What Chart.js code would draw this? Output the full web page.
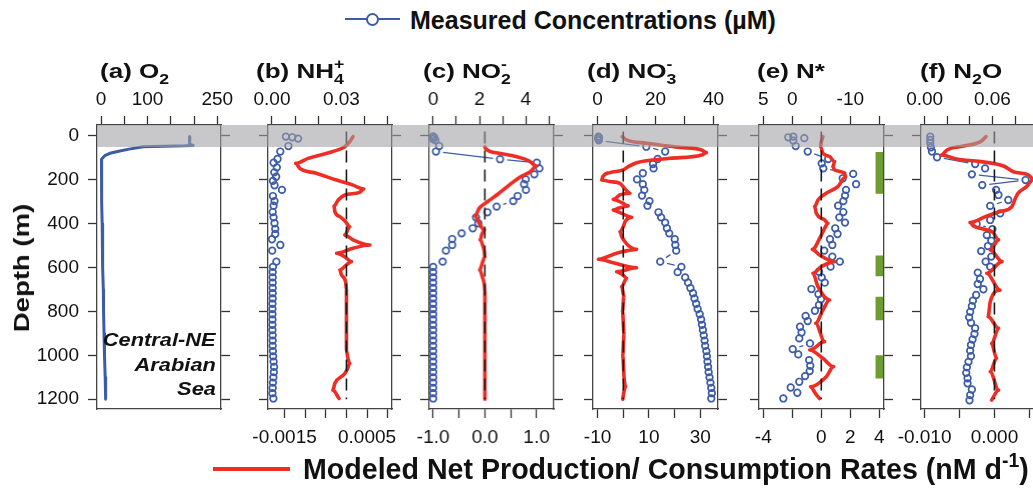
<!DOCTYPE html>
<html><head><meta charset="utf-8">
<script src="https://cdn.jsdelivr.net/npm/chart.js@4.4.0/dist/chart.umd.min.js"></script>
<style>
html,body{margin:0;padding:0;background:#fff;}
body{width:1033px;height:488px;overflow:hidden;position:relative;font-family:"Liberation Sans",Arial,sans-serif;color:#111}
canvas{position:absolute}
.t{position:absolute;white-space:nowrap;font-weight:bold;transform-origin:0 0;color:#111}
.t span{line-height:0}
.band{position:absolute;left:97px;top:125px;width:1000px;height:22px;background:rgba(160,161,163,0.58);z-index:5}
.u{position:relative;font-size:.68em}
</style></head><body>
<div class="band"></div>
<script>
// ---------------- DATA ----------------
// (a) O2 profile (µM) vs depth (m)
const o2Depth = [2, 10, 20, 30, 38, 43, 45, 49, 60, 70, 79, 90, 106, 130, 160, 200, 300, 400, 500, 600, 700, 800, 900, 1000, 1100, 1200];
const o2Conc  = [191, 190, 191, 190, 191, 198, 180, 91, 60, 38, 19, 8, 1, 1, 1, 1.5, 2, 2.5, 3, 4, 5, 5.5, 6.5, 7.5, 9, 10];

// (b) NH4+ measured (µM) and modeled rate (nM/d)
const nh4Depth = [3, 6, 12, 46, 71, 105, 122, 143, 166, 186, 205, 225, 246, 274, 297, 318, 347, 371, 398, 424, 447, 471, 497, 523, 573, 597, 621, 645, 669, 693, 717, 741, 765, 789, 813, 837, 861, 885, 909, 933, 957, 981, 1005, 1029, 1053, 1077, 1101, 1125, 1149, 1173, 1197];
const nh4Conc  = [0.0060, 0.0088, 0.0113, 0.0071, 0.0036, 0.0024, 0.0007, 0.0021, 0.0010, 0.0018, 0.0004, 0.0011, 0.0043, 0.0004, 0.0011, 0.0007, 0.0003, 0.0007, 0.0011, 0.0014, 0.0014, 0.0000, 0.0036, 0.0001, 0.0019, 0.0004, 0.0003, 0.0003, 0.0003, 0.0003, 0.0003, 0.0003, 0.0002, 0.0002, 0.0002, 0.0002, 0.0002, 0.0002, 0.0003, 0.0003, 0.0003, 0.0004, 0.0005, 0.0007, 0.0009, 0.0008, 0.0006, 0.0004, 0.0003, 0.0002, 0.0006];
const nh4RDepth = [3, 26, 49, 71, 102, 125, 148, 170, 201, 224, 242, 257, 269, 292, 320, 345, 368, 391, 414, 452, 474, 497, 512, 535, 551, 573, 588, 611, 634, 665, 700, 800, 900, 976, 1010, 1037, 1060, 1083, 1128, 1159, 1197];
const nh4Rate   = [0.00016, 0.00008, -0.00004, -0.00033, -0.00093, -0.00123, -0.00113, -0.00073, -0.00024, 0.00016, 0.00042, 0.00032, -0.00004, -0.00020, -0.00030, -0.00028, -0.00016, -0.00002, 0.00008, -0.00004, 0.00016, 0.00057, 0.00016, -0.00024, -0.00004, 0.00012, 0.00000, -0.00016, -0.00012, -0.00002, 0, 0, 0, 0, 0.00003, 0.00008, 0.00003, -0.00004, -0.00028, -0.00033, -0.00018];

// (c) NO2-
const no2Depth = [2, 8, 14, 20, 46, 71, 106, 122, 148, 175, 198, 220, 246, 274, 297, 322, 348, 371, 398, 421, 444, 470, 497, 523, 573, 597, 621, 645, 669, 693, 717, 741, 765, 789, 813, 837, 861, 885, 909, 933, 957, 981, 1005, 1029, 1053, 1077, 1101, 1125, 1149, 1173, 1197];
const no2Conc  = [0.0, 0.05, 0.0, 0.1, 0.26, 0.12, 2.89, 4.48, 4.59, 4.37, 4.0, 3.93, 4.01, 3.65, 3.46, 2.74, 2.34, 1.85, 1.95, 1.71, 1.23, 0.82, 0.82, 0.55, 0.41, 0.0, 0.0, 0.0, 0.0, 0.0, 0.0, 0.0, 0.0, 0.0, 0.0, 0.0, 0.0, 0.0, 0.0, 0.0, 0.0, 0.0, 0.0, 0.0, 0.0, 0.0, 0.0, 0.0, 0.0, 0.0, 0.0];
const no2RDepth = [50, 56, 79, 94, 113, 137, 163, 186, 224, 261, 300, 330, 365, 398, 429, 450, 474, 500, 528, 551, 580, 611, 642, 680, 710, 800, 900, 1000, 1100, 1200];
const no2Rate   = [0.0, 0.01, 0.275, 0.6, 0.85, 1.0, 0.88, 0.69, 0.47, 0.275, 0.05, -0.11, -0.19, -0.11, -0.01, -0.06, -0.09, -0.04, -0.01, 0.0, -0.05, -0.1, -0.05, -0.01, 0, 0, 0, 0, 0, 0];

// (d) NO3-
const no3Depth = [3, 8, 14, 20, 49, 71, 105, 128, 148, 170, 198, 220, 246, 272, 297, 318, 348, 371, 395, 421, 444, 471, 497, 523, 573, 597, 621, 645, 669, 693, 717, 741, 765, 789, 813, 837, 861, 885, 909, 933, 957, 981, 1005, 1029, 1053, 1077, 1101, 1125, 1149, 1173, 1197];
const no3Conc  = [0.3, 0.5, 0.2, 0.4, 16.8, 23.3, 20.7, 19.1, 19.3, 15.6, 13.6, 15.6, 16.1, 15.3, 17.9, 17.2, 21.0, 21.9, 23.3, 23.9, 24.7, 26.6, 26.8, 27.1, 21.6, 28.9, 27.6, 30.2, 31.2, 32.0, 32.9, 33.4, 34.0, 34.5, 35.2, 35.7, 36.0, 36.3, 36.6, 36.9, 37.1, 37.5, 37.7, 37.9, 38.1, 38.3, 38.6, 38.9, 39.2, 39.4, 39.2];
const no3RDepth = [3, 18, 33, 52, 64, 76, 87, 102, 122, 140, 155, 167, 186, 201, 208, 216, 242, 261, 269, 289, 304, 319, 330, 338, 353, 371, 391, 414, 437, 459, 480, 500, 517, 535, 562, 578, 601, 619, 635, 649, 687, 730, 800, 900, 1000, 1100, 1144, 1170, 1200];
const no3Rate   = [-0.4, 1.3, 9.1, 22, 30.5, 32.4, 30.5, 18.2, 5.2, 1.9, 0, -5.2, -8.0, -8.4, -5.2, -1.3, 0.7, 2.6, -1.3, -3.9, -0.6, 1.9, -1.9, -3.9, -0.6, 3.3, 0.7, 0, -1.3, -0.6, 0.5, 2.0, 5.2, -2.6, -9.7, -3.9, 5.2, -2.6, 0, 1.3, -0.6, 0.2, -0.3, 0.3, -0.2, 0.3, 0.9, 0.2, -0.2];

// (e) N*
const nsDepth = [3, 6, 10, 21, 46, 71, 105, 125, 148, 173, 193, 220, 246, 272, 297, 318, 347, 371, 395, 421, 447, 471, 497, 523, 550, 573, 596, 619, 645, 669, 698, 721, 745, 771, 797, 821, 844, 870, 896, 923, 946, 972, 996, 1022, 1048, 1072, 1095, 1121, 1147, 1171, 1197];
const nsVal   = [-0.17, 0.69, -2.07, -0.17, -0.59, -2.66, -6.2, -5.07, -5.34, -10.5, -8.7, -11.0, -9.26, -9.09, -8.8, -7.9, -8.8, -8.1, -9.09, -7.4, -7.8, -6.5, -6.9, -5.5, -6.9, -8.2, -6.6, -4.6, -5.07, -5.6, -3.3, -4.5, -4.95, -4.6, -3.9, -2.3, -2.66, -1.33, -1.6, -1.2, -3.05, -0.07, -1.03, -2.9, -3.1, -3.0, -2.2, -1.2, 0.28, -0.86, 1.55];
const nsRDepth = [3, 26, 49, 79, 94, 117, 140, 155, 170, 186, 231, 261, 292, 322, 353, 383, 398, 421, 452, 517, 543, 573, 596, 626, 687, 748, 794, 854, 938, 976, 1014, 1052, 1098, 1144, 1174, 1197];
const nsRate   = [0.11, 0, -0.05, 0.11, 0.57, 0.92, 0.8, 0.92, 1.6, 1.68, 1.14, 0.34, -0.23, -0.46, -0.34, 0.23, 0.46, 0.23, 0, -0.62, -0.12, 0.92, 0, -0.58, -0.23, 0.57, 0.11, -0.39, 0.23, -0.8, 0.11, 0.85, 0.34, -0.74, -0.41, -0.12];
const greenTop    = [73, 545, 733, 1000];
const greenBottom = [264, 640, 840, 1106];
const greenRate   = 4.0;

// (f) N2O
const n2oDepth = [3, 18, 33, 52, 71, 97, 128, 148, 175, 201, 224, 246, 269, 292, 319, 353, 383, 401, 425, 452, 478, 502, 525, 550, 573, 596, 623, 652, 675, 699, 725, 751, 776, 802, 827, 852, 877, 903, 928, 953, 979, 1004, 1030, 1055, 1080, 1105, 1128, 1156, 1182, 1205];
const n2oConc  = [0.005, 0.005, 0.005, 0.0056, 0.0065, 0.011, 0.0447, 0.0535, 0.0418, 0.0893, 0.051, 0.0632, 0.0653, 0.074, 0.058, 0.0668, 0.058, 0.046, 0.060, 0.055, 0.059, 0.056, 0.050, 0.059, 0.054, 0.058, 0.047, 0.049, 0.047, 0.052, 0.0456, 0.0427, 0.0418, 0.0403, 0.0394, 0.041, 0.0447, 0.0441, 0.0424, 0.041, 0.0403, 0.041, 0.0388, 0.0374, 0.0368, 0.038, 0.038, 0.0418, 0.0403, 0.0397];
const n2oRDepth = [3, 26, 46, 64, 87, 105, 117, 137, 163, 178, 198, 231, 261, 284, 322, 345, 368, 395, 410, 425, 440, 474, 520, 573, 626, 703, 756, 824, 877, 946, 1014, 1075, 1159, 1204];
const n2oRate   = [-0.0012, -0.002, -0.0044, -0.0068, -0.0076, -0.0054, -0.002, 0.0013, 0.0027, 0.0049, 0.0056, 0.0046, 0.0034, 0.003, 0.0025, 0.0008, -0.0013, -0.0035, -0.003, -0.0015, -0.0002, 0.0006, -0.0006, 0.0011, -0.0011, 0.0008, -0.0006, -0.0009, 0.0006, -0.0004, 0.0003, -0.0006, 0.0006, -0.0004];

// ---------------- TICKS ----------------
const depthTicks = [0, 200, 400, 600, 800, 1000, 1200];
const depthLabels = [[0,'0'],[200,'200'],[400,'400'],[600,'600'],[800,'800'],[1000,'1000'],[1200,'1200']];
const o2Ticks = [0, 50, 100, 150, 200, 250];            const o2Labels = [[0,'0'],[100,'100'],[250,'250']];
const nh4Ticks = [0, 0.01, 0.02, 0.03, 0.04, 0.05];      const nh4Labels = [[0,'0.00'],[0.03,'0.03']];
const nh4RTicks = [-0.0015, -0.001, -0.0005, 0, 0.0005, 0.001]; const nh4RLabels = [[-0.0015,'-0.0015'],[0.0005,'0.0005']];
const no2Ticks = [0, 1, 2, 3, 4, 5];                     const no2Labels = [[0,'0'],[2,'2'],[4,'4']];
const no2RTicks = [-1, -0.5, 0, 0.5, 1];                 const no2RLabels = [[-1,'-1.0'],[0,'0.0'],[1,'1.0']];
const no3Ticks = [0, 10, 20, 30, 40];                    const no3Labels = [[0,'0'],[20,'20'],[40,'40']];
const no3RTicks = [-10, 0, 10, 20, 30];                  const no3RLabels = [[-10,'-10'],[10,'10'],[30,'30']];
const nsTicks = [5, 0, -5, -10, -15];                    const nsLabels = [[5,'5'],[0,'0'],[-10,'-10']];
const nsRTicks = [-4, -2, 0, 2, 4];                      const nsRLabels = [[-4,'-4'],[0,'0'],[2,'2'],[4,'4']];
const n2oTicks = [0, 0.02, 0.04, 0.06, 0.08, 0.10];      const n2oLabels = [[0,'0.00'],[0.06,'0.06']];
const n2oRTicks = [-0.01, -0.005, 0, 0.005, 0.01];       const n2oRLabels = [[-0.01,'-0.010'],[0,'0.000']];

// ---------------- STYLE ----------------
Chart.defaults.font.family = '"Liberation Sans", Arial, sans-serif';
Chart.defaults.color = '#111';
const BLUE = '#3d5ca8', RED = '#ee2e24', GREEN = '#6e9c30';
const BOX_TOP = 125, BOX_H = 284, DMIN = -50, DMAX = 1245;
const TICK_FS = 19;
const GAP = 7;
const segLen = c => Math.hypot(c.p1.x - c.p0.x, c.p1.y - c.p0.y);
const gapSegment = {
  borderColor: c => (segLen(c) - 2*GAP < 1.5 ? 'rgba(0,0,0,0)' : undefined),
  borderDash: c => { const L = segLen(c); return L - 2*GAP < 1.5 ? undefined : [0, GAP, L - 2*GAP, L + 50]; },
  borderDashOffset: c => c.p0DataIndex * 1e-4
};
const pts = (xs, ds) => ds.map((d, i) => ({x: xs[i], y: d}));

function measured(vals, depths) {
  return {data: pts(vals, depths), xAxisID: 'x2', yAxisID: 'y', showLine: true, borderColor: BLUE, borderWidth: 1.3,
    pointRadius: 3.3, pointBorderWidth: 1.7, pointBorderColor: BLUE, pointBackgroundColor: 'rgba(0,0,0,0)',
    segment: gapSegment, order: 3, clip: false};
}
function modeled(vals, depths) {
  return {data: pts(vals, depths), xAxisID: 'x', yAxisID: 'y', showLine: true, borderColor: RED, borderWidth: 3.6,
    pointRadius: 0, cubicInterpolationMode: 'monotone', order: 2, borderJoinStyle: 'round', borderCapStyle: 'round'};
}
function zeroLine() {
  return {data: [{x: 0, y: -20}, {x: 0, y: 1200}], xAxisID: 'x', yAxisID: 'y', showLine: true, borderColor: '#1a1a1a',
    borderWidth: 1.6, borderDash: [12, 7], pointRadius: 0, order: 1};
}

function labelCb(labels) {
  return v => { const f = labels.find(l => Math.abs(l[0] - v) < 1e-9); return f ? f[1] : ''; };
}
function xAxis(spec, pos, size) {
  return {
    type: 'linear', position: pos, min: spec.min, max: spec.max, reverse: !!spec.reverse,
    afterBuildTicks: a => { a.ticks = spec.ticks.map(v => ({value: v})); },
    afterFit: a => { a.height = size; a.paddingLeft = 0; a.paddingRight = 0; a.paddingTop = 0; a.paddingBottom = 0; },
    ticks: {autoSkip: false, maxRotation: 0, minRotation: 0, padding: pos === 'top' ? 5 : 8, font: {size: TICK_FS}, color: '#111', callback: labelCb(spec.labels)},
    grid: {display: spec.ticks.length > 0, drawOnChartArea: false, drawTicks: true, tickLength: 9, tickWidth: 1.3, tickColor: '#333'},
    border: {display: true, color: '#444', width: 1.3}
  };
}
function yAxis(pos, size, labels) {
  return {
    type: 'linear', position: pos, min: DMIN, max: DMAX, reverse: true,
    afterBuildTicks: a => { a.ticks = depthTicks.map(v => ({value: v})); },
    afterFit: a => { a.width = size; a.paddingTop = 0; a.paddingBottom = 0; a.paddingLeft = 0; a.paddingRight = 0; },
    ticks: {autoSkip: false, padding: 9, font: {size: TICK_FS}, color: '#111', callback: labelCb(labels)},
    grid: {drawOnChartArea: false, drawTicks: true, tickLength: 9, tickWidth: 1.3, tickColor: '#333'},
    border: {display: true, color: '#444', width: 1.3}
  };
}

function makePanel(p) {
  const T = 48, B = 52, L = p.yLab ? 100 : 40, R = 40;
  const W = (p.right - p.left) + L + R, H = BOX_H + T + B;
  const cv = document.createElement('canvas');
  cv.width = W; cv.height = H;
  cv.style.left = (p.left - L) + 'px'; cv.style.top = (BOX_TOP - T) + 'px';
  cv.style.width = W + 'px'; cv.style.height = H + 'px';
  document.body.appendChild(cv);
  new Chart(cv, {
    type: 'scatter',
    data: {datasets: p.datasets},
    options: {
      responsive: false, maintainAspectRatio: false, animation: false, devicePixelRatio: 1, events: [],
      layout: {padding: 0},
      plugins: {legend: {display: false}, tooltip: {enabled: false}},
      scales: {
        x: xAxis(p.bottom, 'bottom', B),
        x2: xAxis(p.top, 'top', T),
        y: yAxis('left', L, p.yLab ? depthLabels : []),
        y2: yAxis('right', R, [])
      }
    }
  });
}

const greenSets = greenTop.map((t, i) => ({data: [{x: greenRate, y: t}, {x: greenRate, y: greenBottom[i]}], xAxisID: 'x', yAxisID: 'y',
  showLine: true, borderColor: GREEN, borderWidth: 7.5, borderCapStyle: 'butt', pointRadius: 0, order: 4}));

const panels = [
  {left: 97, right: 221, yLab: true,
   top: {min: -8.6, max: 258, ticks: o2Ticks, labels: o2Labels},
   bottom: {min: 0, max: 1, ticks: [], labels: []},
   datasets: [{data: pts(o2Conc, o2Depth), xAxisID: 'x2', yAxisID: 'y', showLine: true, borderColor: BLUE, borderWidth: 3, pointRadius: 0, borderJoinStyle: 'round'}]},
  {left: 267.7, right: 392,
   top: {min: -0.00172, max: 0.05185, ticks: nh4Ticks, labels: nh4Labels},
   bottom: {min: -0.001901, max: 0.001104, ticks: nh4RTicks, labels: nh4RLabels},
   datasets: [measured(nh4Conc, nh4Depth), modeled(nh4Rate, nh4RDepth), zeroLine()]},
  {left: 429.3, right: 554,
   top: {min: -0.173, max: 5.216, ticks: no2Ticks, labels: no2Labels},
   bottom: {min: -1.077, max: 1.335, ticks: no2RTicks, labels: no2RLabels},
   datasets: [measured(no2Conc, no2Depth), modeled(no2Rate, no2RDepth), zeroLine()]},
  {left: 592.7, right: 717.7,
   top: {min: -1.59, max: 41.52, ticks: no3Ticks, labels: no3Labels},
   bottom: {min: -11.79, max: 36.9, ticks: no3RTicks, labels: no3RLabels},
   datasets: [measured(no3Conc, no3Depth), modeled(no3Rate, no3RDepth), zeroLine()]},
  {left: 759, right: 884,
   top: {min: -15.81, max: 5.74, reverse: true, ticks: nsTicks, labels: nsLabels},
   bottom: {min: -4.297, max: 4.324, ticks: nsRTicks, labels: nsRLabels},
   datasets: [measured(nsVal, nsDepth), modeled(nsRate, nsRDepth), zeroLine(), ...greenSets]},
  {left: 920.7, right: 1045,
   top: {min: -0.0032, max: 0.1065, ticks: n2oTicks, labels: n2oLabels},
   bottom: {min: -0.01051, max: 0.00724, ticks: n2oRTicks, labels: n2oRLabels},
   datasets: [measured(n2oConc, n2oDepth), modeled(n2oRate, n2oRDepth), zeroLine()]}
];
panels.forEach(makePanel);

// ---------------- TEXT ----------------
function text(html, x, baseY, fs, sx, extra) {
  const d = document.createElement('div');
  d.className = 't';
  d.innerHTML = html;
  d.style.left = x + 'px';
  d.style.top = (baseY - 0.8465 * fs) + 'px';
  d.style.fontSize = fs + 'px';
  d.style.lineHeight = fs + 'px';
  d.style.transform = 'scaleX(' + sx + ')';
  if (extra) Object.assign(d.style, extra);
  document.body.appendChild(d);
  return d;
}
const sub = s => '<span class="u" style="top:.42em">' + s + '</span>';
const stack = (lo, hi, w) => '<span class="u" style="top:.42em">' + lo + '</span><span class="u" style="top:-.62em;margin-left:-' + w + 'em">' + hi + '</span>';
const TFS = 21, TSX = 1.24, TB = 77.5;
text('(a) O' + sub('2'), 100, TB, TFS, TSX);
text('(b) NH' + stack('4', '+', 0.556), 256, TB, TFS, TSX);
text('(c) NO' + stack('2', '-', 0.556), 422.7, TB, TFS, TSX);
text('(d) NO' + stack('3', '-', 0.556), 586.7, TB, TFS, TSX);
text('(e) N*', 756.7, TB, TFS, TSX);
text('(f) N' + sub('2') + 'O', 920, TB, TFS, TSX);

text('Measured Concentrations (µM)', 410, 29.5, 25, 1.0);
text('Modeled Net Production/ Consumption Rates (nM d<span class="u" style="top:-.6em">-1</span>)', 303, 479, 28.6, 1.0);

const dl = text('Depth (m)', 0, 0, 22, 1);
dl.style.left = '22px'; dl.style.top = '268px'; dl.style.lineHeight = '22px';
dl.style.transformOrigin = '0 0';
dl.style.transform = 'rotate(-90deg) scaleX(1.25) translate(-50%,-50%)';

['Central-NE', 'Arabian', 'Sea'].forEach((s, i) => {
  const d = text(s, 0, 347 + i * 24.5, 18.5, 1.18, {fontStyle: 'italic', textAlign: 'right', transformOrigin: '100% 0'});
  d.style.left = 'auto'; d.style.right = (1033 - 216) + 'px';
});

// legend swatches
const ln = document.createElement('div');
ln.style.cssText = 'position:absolute;left:345px;top:18px;width:55px;height:2px;background:' + BLUE;
document.body.appendChild(ln);
const cir = document.createElement('div');
cir.style.cssText = 'position:absolute;left:366px;top:13px;width:9px;height:9px;border:2px solid ' + BLUE + ';border-radius:50%;background:#fff';
document.body.appendChild(cir);
const rl = document.createElement('div');
rl.style.cssText = 'position:absolute;left:213px;top:467px;width:77px;height:4px;background:' + RED;
document.body.appendChild(rl);
</script>
</body></html>
